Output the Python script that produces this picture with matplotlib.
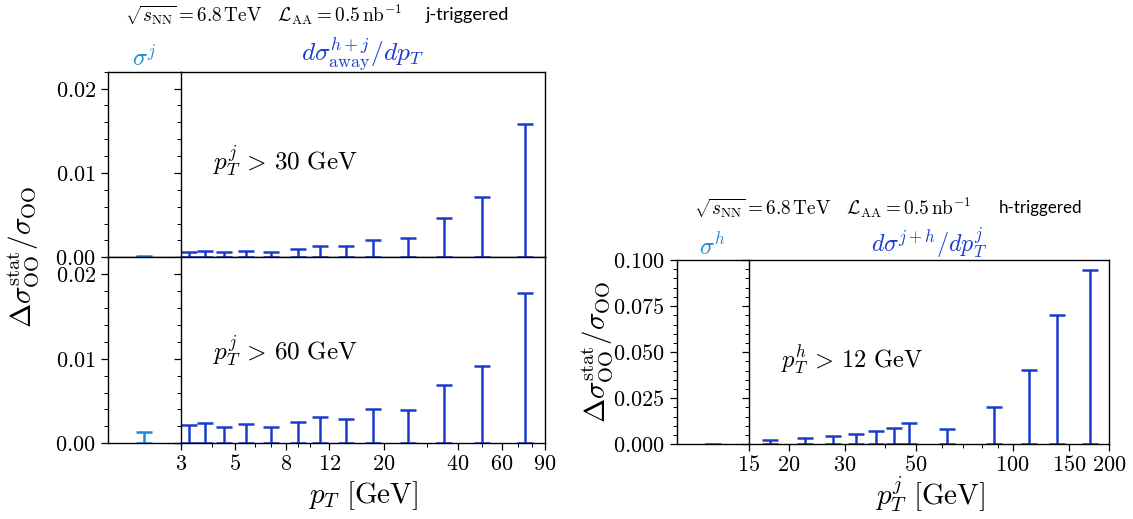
import matplotlib
matplotlib.use("Agg")
import matplotlib.pyplot as plt
from matplotlib.ticker import FixedLocator, FixedFormatter, NullFormatter, LogLocator, MultipleLocator

plt.rcParams['mathtext.fontset'] = 'cm'
plt.rcParams['font.family'] = ['Lato', 'DejaVu Sans']

# ---------------- data ----------------
# j-triggered: away-side hadron pT bin centres [GeV]
pt_h_centres = [3.25, 3.75, 4.5, 5.5, 7, 9, 11, 14, 18, 25, 35, 50, 75]
err_pt30 = [0.00067, 0.00079, 0.00067, 0.00079, 0.00067, 0.00099, 0.00137, 0.00137,
            0.00206, 0.0023, 0.00466, 0.00713, 0.01584]
err_pt60 = [0.00215, 0.00236, 0.00196, 0.00227, 0.00196, 0.00252, 0.00314, 0.0029,
            0.004, 0.00393, 0.00686, 0.0091, 0.01783]
sigma_j_pt30 = 0.0002
sigma_j_pt60 = 0.0013

# h-triggered: jet pT bin centres [GeV]
pt_j_centres = [17.5, 22.5, 27.5, 32.5, 37.5, 42.5, 47.5, 62.5, 87.5, 112.5, 137.5, 175]
err_pt12 = [0.0025, 0.0033, 0.0045, 0.0056, 0.0072, 0.0090, 0.0114, 0.0085,
            0.0204, 0.0403, 0.0700, 0.0944]
sigma_h_pt12 = 0.0003

left_xticks = [3, 5, 8, 12, 20, 40, 60, 90]
right_xticks = [15, 20, 30, 50, 100, 150, 200]
left_yticks = [0.0, 0.01, 0.02]
left_yticklabels = ['0.00', '0.01', '0.02']
right_yticks = [0.0, 0.025, 0.05, 0.075, 0.1]
right_yticklabels = ['0.000', '0.025', '0.050', '0.075', '0.100']

# ---------------- style ----------------
c_main = '#1a3ccc'
c_sig = '#1f8ad2'
TICK = 16
LAB = 21
TXT = 18.5
TIT = 17.5
ANN = 14
cap = 5.5
lw = 1.8

W, H = 1133, 519
fig = plt.figure(figsize=(W / 100, H / 100), dpi=100)


def fx(px):
    return px / W


def fy(px):
    return 1 - px / H


def make_pair(x0, xd, x1, ytop, ybot):
    axn = fig.add_axes([fx(x0), fy(ybot), fx(xd) - fx(x0), fy(ytop) - fy(ybot)])
    axw = fig.add_axes([fx(xd), fy(ybot), fx(x1) - fx(xd), fy(ytop) - fy(ybot)])
    return axn, axw


def style_pair(axn, axw, ylim, yticks, ylabels, yminor, xlim, xticks, show_x=True):
    for ax in (axn, axw):
        ax.set_ylim(*ylim)
        ax.yaxis.set_major_locator(FixedLocator(yticks))
        ax.yaxis.set_minor_locator(MultipleLocator(yminor))
        ax.tick_params(axis='y', which='major', length=5, width=0.9, direction='out')
        ax.tick_params(axis='y', which='minor', length=3, width=0.7, direction='out')
        for s in ax.spines.values():
            s.set_linewidth(1.0)
    axn.set_xlim(0, 1)
    axn.set_xticks([])
    axn.spines['right'].set_visible(False)
    axn.set_yticklabels([r'$%s$' % l for l in ylabels], fontsize=TICK)
    axw.set_yticklabels([])
    axw.set_xscale('log')
    axw.set_xlim(*xlim)
    axw.xaxis.set_major_locator(FixedLocator(xticks))
    axw.xaxis.set_minor_locator(LogLocator(base=10, subs=range(1, 10)))
    axw.xaxis.set_minor_formatter(NullFormatter())
    if show_x:
        axw.xaxis.set_major_formatter(FixedFormatter([r'$%d$' % t for t in xticks]))
        axw.tick_params(axis='x', which='major', length=5, width=0.9, labelsize=TICK, pad=3)
        axw.tick_params(axis='x', which='minor', length=3, width=0.7)
    else:
        axw.tick_params(axis='x', which='both', length=0, labelbottom=False)


def draw_err(ax, x, v, color):
    ax.errorbar(x, [0] * len(v), yerr=[[0] * len(v), v], fmt='none', ecolor=color,
                elinewidth=lw, capsize=cap, capthick=lw, clip_on=True)


fit_list = []  # (text artist, target width in px)

# ---- left panel, top (pT^j > 30 GeV) ----
an1, aw1 = make_pair(107.7, 180.7, 545, 71.7, 257.3)
style_pair(an1, aw1, (0, 0.022), left_yticks, left_yticklabels, 0.002,
           (3, 90), left_xticks, show_x=False)
draw_err(an1, [0.5], [sigma_j_pt30], c_sig)
draw_err(aw1, pt_h_centres, err_pt30, c_main)
t = aw1.text(0.09, 0.52, r'$p_T^j\,>\,30\ {\rm GeV}$', transform=aw1.transAxes,
             fontsize=TXT, va='center', ha='left')
fit_list.append((t, 145))
an1.set_title(r'$\sigma^j$', color=c_sig, fontsize=TIT, pad=4)
t = aw1.set_title(r'$d\sigma^{h+j}_{\rm away}/dp_T$', color=c_main, fontsize=TIT, pad=4)
fit_list.append((t, 123))

# ---- left panel, bottom (pT^j > 60 GeV) ----
an2, aw2 = make_pair(107.7, 180.7, 545, 257.3, 443.3)
style_pair(an2, aw2, (0, 0.022), left_yticks, left_yticklabels, 0.002,
           (3, 90), left_xticks, show_x=True)
draw_err(an2, [0.5], [sigma_j_pt60], c_sig)
draw_err(aw2, pt_h_centres, err_pt60, c_main)
t = aw2.text(0.09, 0.50, r'$p_T^j\,>\,60\ {\rm GeV}$', transform=aw2.transAxes,
             fontsize=TXT, va='center', ha='left')
fit_list.append((t, 145))
fig.text(fx(363), fy(496), r'$p_T\ [{\rm GeV}]$', fontsize=LAB, ha='center', va='center')

fig.text(fx(24), fy(257), r'$\Delta\sigma^{\rm stat}_{\rm OO}/\sigma_{\rm OO}$',
         rotation=90, fontsize=LAB, ha='center', va='center')

t = fig.text(fx(125), fy(15), r'$\sqrt{s_{\rm NN}} = 6.8\,{\rm TeV}\quad \mathcal{L}_{\rm AA} = 0.5\,{\rm nb}^{-1}$',
             fontsize=ANN, ha='left', va='center')
fit_list.append((t, 278))
t = fig.text(fx(426), fy(15), 'j-triggered', fontsize=ANN, ha='left', va='center')
fit_list.append((t, 84))

# ---- right panel (h-triggered) ----
an3, aw3 = make_pair(676.7, 748.7, 1109, 260, 444.3)
style_pair(an3, aw3, (0, 0.1), right_yticks, right_yticklabels, 0.005,
           (15, 200), right_xticks, show_x=True)
draw_err(an3, [0.5], [sigma_h_pt12], c_sig)
draw_err(aw3, pt_j_centres, err_pt12, c_main)
t = aw3.text(0.09, 0.46, r'$p_T^h\,>\,12\ {\rm GeV}$', transform=aw3.transAxes,
             fontsize=TXT, va='center', ha='left')
fit_list.append((t, 142))
an3.set_title(r'$\sigma^h$', color=c_sig, fontsize=TIT, pad=4)
t = aw3.set_title(r'$d\sigma^{j+h}/dp_T^j$', color=c_main, fontsize=TIT, pad=4)
fit_list.append((t, 116))
fig.text(fx(930), fy(494), r'$p_T^j\ [{\rm GeV}]$', fontsize=LAB, ha='center', va='center')
fig.text(fx(598), fy(352), r'$\Delta\sigma^{\rm stat}_{\rm OO}/\sigma_{\rm OO}$',
         rotation=90, fontsize=LAB, ha='center', va='center')

t = fig.text(fx(694), fy(208), r'$\sqrt{s_{\rm NN}} = 6.8\,{\rm TeV}\quad \mathcal{L}_{\rm AA} = 0.5\,{\rm nb}^{-1}$',
             fontsize=ANN, ha='left', va='center')
fit_list.append((t, 278))
t = fig.text(fx(999), fy(208), 'h-triggered', fontsize=ANN, ha='left', va='center')
fit_list.append((t, 84))

# scale font sizes so the texts span the widths seen in the reference
fig.canvas.draw()
renderer = fig.canvas.get_renderer()
for art, target in fit_list:
    w = art.get_window_extent(renderer).width
    if w > 0:
        art.set_fontsize(art.get_fontsize() * target / w)

fig.savefig('out.png', dpi=100)
